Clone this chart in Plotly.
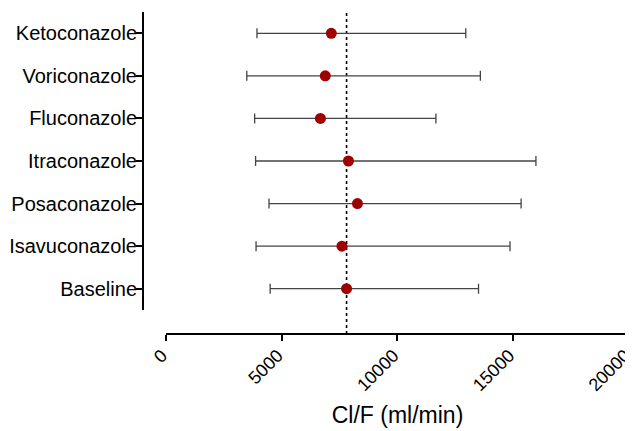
import plotly.graph_objects as go

categories = ["Baseline", "Isavuconazole", "Posaconazole", "Itraconazole",
              "Fluconazole", "Voriconazole", "Ketoconazole"]
median = [7800, 7600, 8270, 7880, 6670, 6880, 7140]
lower = [4500, 3890, 4450, 3870, 3830, 3490, 3930]
upper = [13500, 14860, 15340, 15980, 11660, 13580, 12950]
reference_value = 7800
x_ticks = [0, 5000, 10000, 15000, 20000]

err_plus = [u - m for u, m in zip(upper, median)]
err_minus = [m - l for m, l in zip(median, lower)]

FONT = "Liberation Sans, Arial, Helvetica, sans-serif"
OFF = 8  # page body margin
W, H = 633 - OFF, 431 - OFF
L, R, T, B = 143 - OFF, 4, 12 - OFF, 97
pw = W - L - R
ph = H - T - B
x_dom0 = (166 - 143) / pw
y_dom0 = (334 - 310) / ph

fig = go.Figure()
fig.add_trace(go.Scatter(
    x=median, y=categories, mode="markers",
    marker=dict(size=11, color="#A00000"),
    error_x=dict(type="data", symmetric=False, array=err_plus, arrayminus=err_minus,
                 color="#444444", thickness=1.3, width=5),
    showlegend=False,
))
fig.add_shape(type="line", xref="x", yref="paper", x0=reference_value, x1=reference_value,
              y0=0, y1=1, line=dict(color="black", width=1.6, dash="dot"), layer="below")

fig.update_layout(
    width=W, height=H,
    margin=dict(l=L, r=R, t=T, b=B),
    plot_bgcolor="white", paper_bgcolor="white",
    font=dict(family=FONT, color="black"),
    xaxis=dict(
        domain=[x_dom0, 1], range=[0, 20000.5], anchor="free", position=0,
        tickvals=x_ticks, ticktext=[str(v) for v in x_ticks], tickangle=-45,
        ticklabeloverflow="allow", ticklabelshift=-4, ticklabelstandoff=-3,
        showline=True, linecolor="black", linewidth=2,
        ticks="outside", ticklen=6, tickwidth=1.5, tickcolor="black",
        showgrid=False, zeroline=False,
        tickfont=dict(size=18),
        title=dict(text="Cl/F (ml/min)", font=dict(size=23), standoff=12),
        automargin=False,
    ),
    yaxis=dict(
        domain=[y_dom0, 1], range=[-0.5, 6.5], anchor="free", position=0,
        type="category", categoryorder="array", categoryarray=categories,
        showline=True, linecolor="black", linewidth=2,
        ticks="outside", ticklen=6, tickwidth=1.5, tickcolor="black",
        ticklabelstandoff=-5,
        showgrid=False, zeroline=False,
        tickfont=dict(size=20),
        automargin=False,
    ),
)
fig.write_html("out.html")
